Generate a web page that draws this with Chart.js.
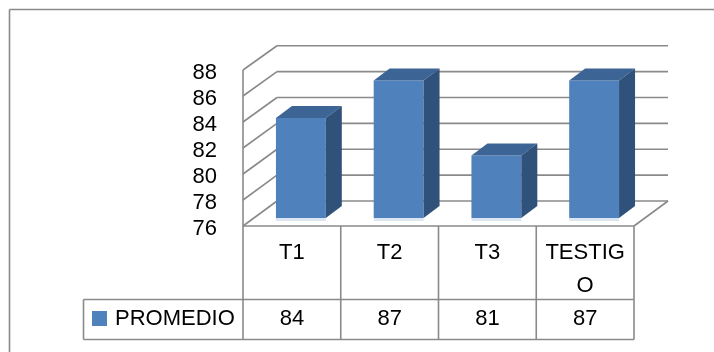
<!DOCTYPE html>
<html>
<head>
<meta charset="utf-8">
<script src="https://cdn.jsdelivr.net/npm/chart.js@4.4.1/dist/chart.umd.min.js"></script>
<style>
  html, body { margin: 0; padding: 0; background: #fff; }
  #wrap { width: 714px; height: 352px; }
</style>
</head>
<body>
<div id="wrap"><canvas id="chart" width="714" height="352"></canvas></div>
<script>
const categories = ['T1', 'T2', 'T3', 'TESTIGO'];
const headerLines = [['T1'], ['T2'], ['T3'], ['TESTIG', 'O']]; // wrapped header text
const promedio = [84, 87, 81, 87];
const yTicks = [76, 78, 80, 82, 84, 86, 88];
const seriesName = 'PROMEDIO';

const FONT = '22px "Liberation Sans", Arial, sans-serif';
const LINE = '#8a8a8a';
const FRONT_FACE = '#4f81bd';
const TOP_FACE = '#3c6494';
const SIDE_FACE = '#30517a';

// bars sit in the middle plane; the axis wall is in front, gridlines on the back wall
const FRONT = { dx: -9, dy: 8, k: 1.04 };
const BACK = { dx: 25, dy: -17, k: 1.035 };
const DEPTH = { dx: 16, dy: -12 };

const onPlane = (plane, x, v, yScale) => {
  const base = yScale.getPixelForValue(yTicks[0]);
  return {
    x: x + plane.dx,
    y: base + plane.dy - (base - yScale.getPixelForValue(v)) * plane.k,
  };
};

const line = (ctx, x1, y1, x2, y2) => {
  ctx.beginPath();
  ctx.moveTo(x1, y1);
  ctx.lineTo(x2, y2);
  ctx.stroke();
};

const walls = {
  id: 'walls',
  beforeDatasetsDraw(chart) {
    const { ctx, chartArea: a } = chart;
    const y = chart.scales.y;
    ctx.save();
    ctx.strokeStyle = LINE;
    ctx.lineWidth = 1.6;
    // outer frame (left and top only)
    line(ctx, 9.5, 352, 9.5, 9.5);
    line(ctx, 9.5, 9.5, 714, 9.5);
    yTicks.forEach((v) => {
      const f = onPlane(FRONT, a.left, v, y);
      const bl = onPlane(BACK, a.left, v, y);
      const br = onPlane(BACK, a.right, v, y);
      line(ctx, f.x, f.y, bl.x, bl.y);
      line(ctx, bl.x, bl.y, br.x, br.y);
    });
    // floor right edge
    const fr = onPlane(FRONT, a.right, yTicks[0], y);
    const br = onPlane(BACK, a.right, yTicks[0], y);
    line(ctx, fr.x, fr.y, br.x, br.y);
    ctx.restore();
  },
  afterDatasetsDraw(chart) {
    const { ctx, chartArea: a } = chart;
    const y = chart.scales.y;
    const x = chart.scales.x;
    const meta = chart.getDatasetMeta(0);
    const floor = y.getPixelForValue(yTicks[0]);
    ctx.save();

    // top and side faces of the bars
    meta.data.forEach((bar) => {
      const p = bar.getProps(['x', 'y', 'width'], true);
      const l = p.x - p.width / 2;
      const r = p.x + p.width / 2;
      ctx.fillStyle = '#dce6f2';
      ctx.fillRect(l, floor, p.width, 3);
      ctx.fillStyle = TOP_FACE;
      ctx.beginPath();
      ctx.moveTo(l, p.y);
      ctx.lineTo(l + DEPTH.dx, p.y + DEPTH.dy);
      ctx.lineTo(r + DEPTH.dx, p.y + DEPTH.dy);
      ctx.lineTo(r, p.y);
      ctx.closePath();
      ctx.fill();
      ctx.fillStyle = SIDE_FACE;
      ctx.beginPath();
      ctx.moveTo(r, p.y);
      ctx.lineTo(r + DEPTH.dx, p.y + DEPTH.dy);
      ctx.lineTo(r + DEPTH.dx, floor + DEPTH.dy);
      ctx.lineTo(r, floor);
      ctx.closePath();
      ctx.fill();
    });

    // value axis on the front wall
    const top = onPlane(FRONT, a.left, yTicks[yTicks.length - 1], y);
    const bottom = onPlane(FRONT, a.left, yTicks[0], y);
    const rowTop = bottom.y;
    const rowMid = 299.5;
    const rowEnd = 339.5;
    const legendLeft = 83.5;

    ctx.strokeStyle = LINE;
    ctx.lineWidth = 1.6;
    line(ctx, top.x, top.y, bottom.x, bottom.y);

    ctx.fillStyle = '#000';
    ctx.font = FONT;
    ctx.textAlign = 'right';
    ctx.textBaseline = 'middle';
    yTicks.forEach((v) => {
      const p = onPlane(FRONT, a.left, v, y);
      ctx.fillText(String(v), 217, p.y + 3);
    });

    // data table under the plot
    const right = a.right + FRONT.dx;
    line(ctx, bottom.x, rowTop, right, rowTop);
    line(ctx, legendLeft, rowMid, right, rowMid);
    line(ctx, legendLeft, rowEnd, right, rowEnd);
    line(ctx, legendLeft, rowMid, legendLeft, rowEnd);
    line(ctx, bottom.x, rowTop, bottom.x, rowEnd);
    categories.forEach((c, i) => {
      const cx = x.getPixelForValue(i) + FRONT.dx;
      const half = (a.right - a.left) / categories.length / 2;
      line(ctx, cx + half, rowTop, cx + half, rowEnd);
      ctx.textAlign = 'center';
      headerLines[i].forEach((t, j) => ctx.fillText(t, cx, 253 + j * 33));
      ctx.fillText(String(promedio[i]), cx, 319);
    });

    ctx.fillStyle = FRONT_FACE;
    ctx.fillRect(92, 311, 15, 15);
    ctx.fillStyle = '#000';
    ctx.textAlign = 'left';
    ctx.fillText(seriesName, 115, 319);
    ctx.restore();
  },
};

new Chart(document.getElementById('chart'), {
  type: 'bar',
  data: {
    labels: categories,
    datasets: [
      {
        label: seriesName,
        data: promedio,
        backgroundColor: FRONT_FACE,
        borderWidth: 0,
        barPercentage: 0.51,
        categoryPercentage: 1,
      },
    ],
  },
  options: {
    responsive: false,
    animation: false,
    layout: { padding: { left: 252, right: 71, top: 68, bottom: 134 } },
    scales: {
      x: { display: false },
      y: { display: false, min: 76, max: 88 },
    },
    plugins: {
      legend: { display: false },
      tooltip: { enabled: false },
    },
  },
  plugins: [walls],
});
</script>
</body>
</html>
